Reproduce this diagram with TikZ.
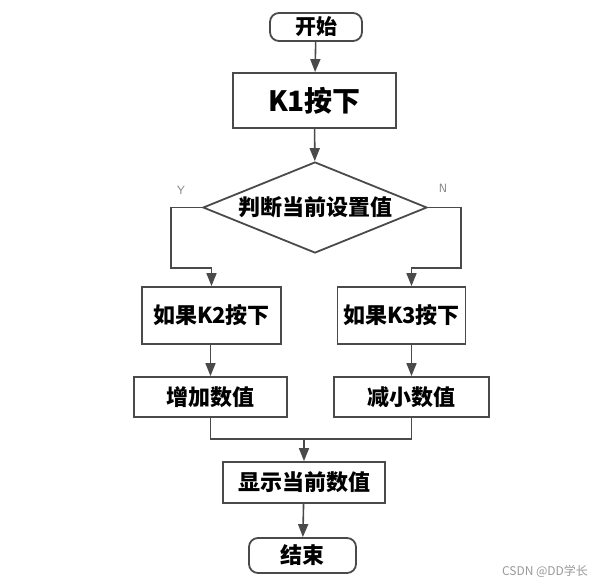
\documentclass[tikz,border=0pt]{standalone}
\usepackage{fontspec}
\newfontfamily\cjk{Noto Sans CJK SC}
\usetikzlibrary{arrows.meta,positioning,shapes.geometric}
\definecolor{linegray}{HTML}{4A4A4A}

\begin{document}
\begin{tikzpicture}[x=1pt,y=-1pt,>={Triangle[length=13pt,width=10pt]},
                    line width=1.6pt,draw=linegray,
                    box node/.style={rectangle,draw=linegray,line width=1.8pt,
                      inner sep=0pt,font=\cjk\bfseries\fontsize{22}{26}\selectfont},
                    term node/.style={box node,rounded corners=9pt},
                    test node/.style={diamond,draw=linegray,line width=1.8pt,aspect=2.4,
                      inner sep=0pt,font=\cjk\bfseries\fontsize{22}{26}\selectfont},
                    branch label/.style={font=\sffamily\fontsize{12}{14}\selectfont,text=gray}]
  \useasboundingbox (0,0) rectangle (613,586);
  \node[term node,minimum width=92pt,minimum height=28pt,
        font=\cjk\bfseries\fontsize{21}{24}\selectfont] (start) at (316,27) {开始};
  \node[box node,minimum width=163pt,minimum height=55pt,
        font=\cjk\bfseries\fontsize{28}{32}\selectfont] (k1) at (314.5,100.5) {K1按下};
  \node[test node,minimum width=224pt,minimum height=91pt] (judge) at (315,207.5) {判断当前设置值};
  \node[box node,minimum width=139pt,minimum height=57pt] (k2) at (211.5,315.5) {如果K2按下};
  \node[box node,minimum width=128pt,minimum height=57pt] (k3) at (401.5,315.5) {如果K3按下};
  \node[box node,minimum width=153pt,minimum height=40pt] (inc) at (210.5,397) {增加数值};
  \node[box node,minimum width=155pt,minimum height=40pt] (dec) at (411.5,397) {减小数值};
  \node[box node,minimum width=162pt,minimum height=41pt] (show) at (304,482.5) {显示当前数值};
  \node[term node,minimum width=107pt,minimum height=35pt] (stop) at (302.5,555.5) {结束};
  % branch labels
  \node[branch label] (yes) at (181,190) {Y};
  \node[branch label] (no) at (443,188) {N};
  \node[font=\cjk\fontsize{12}{14}\selectfont,text=gray!80] (mark) at (545,571) {CSDN @DD学长};
  % corners of the connectors
  \coordinate (ybend) at (171,268);
  \coordinate (nbend) at (461,268);
  \coordinate (merge) at (304,439);
  \path[->,draw=linegray]
    (start) edge (k1)
    (k1) edge (judge)
    (show) edge (stop);
  \draw[->] (k2.south -| inc.north) -- (inc.north);
  \draw[->] (k3.south -| dec.north) -- (dec.north);
  \draw[->] (judge.west) -| (ybend) -| (k2.north);
  \draw[->] (judge.east) -| (nbend) -| (k3.north -| dec.north);
  \draw (inc.south) |- (merge) -| (dec.south);
  \draw[->] (merge) -- (show.north);
\end{tikzpicture}
\end{document}
